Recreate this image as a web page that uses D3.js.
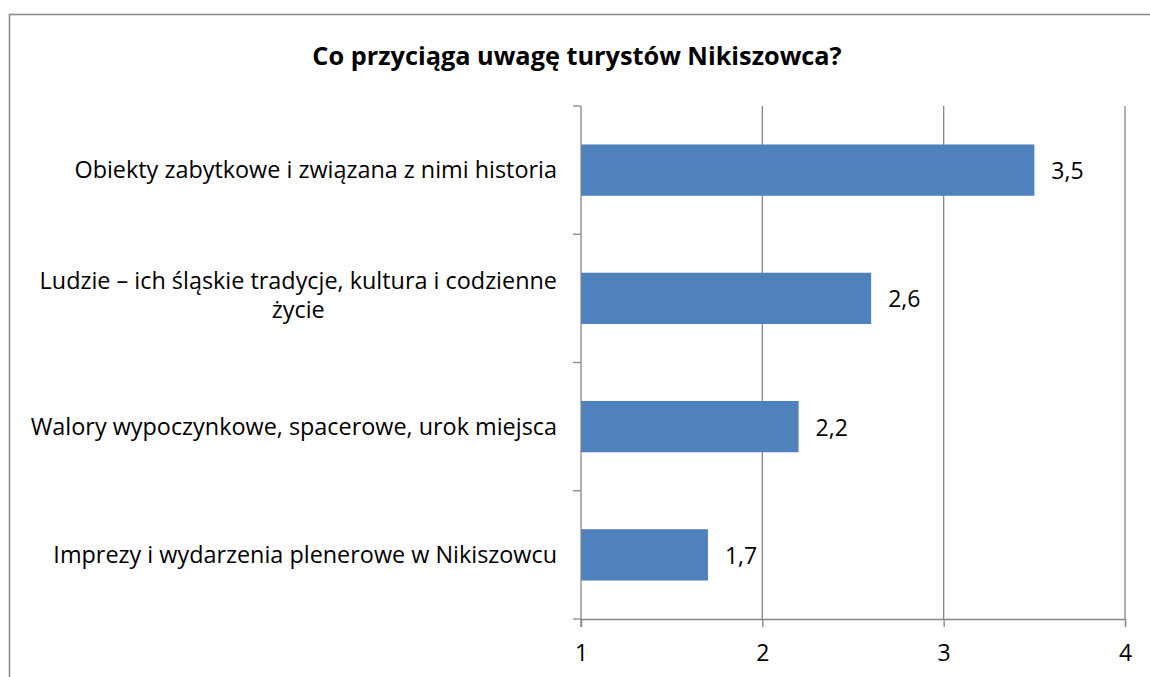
<!DOCTYPE html>
<html>
<head>
<meta charset="utf-8">
<script src="https://cdn.jsdelivr.net/npm/d3@7"></script>
<style>
  body { margin: 0; background: #fff; }
  svg { display: block; font-family: "Open Sans", sans-serif; }
</style>
</head>
<body>
<div id="chart"></div>
<script>
var width = 1150
var height = 677

// data
var categories = [
  'Obiekty zabytkowe i związana z nimi historia',
  'Ludzie – ich śląskie tradycje, kultura i codzienne życie',
  'Walory wypoczynkowe, spacerowe, urok miejsca',
  'Imprezy i wydarzenia plenerowe w Nikiszowcu'
]
var labelLines = [
  ['Obiekty zabytkowe i związana z nimi historia'],
  ['Ludzie – ich śląskie tradycje, kultura i codzienne', 'życie'],
  ['Walory wypoczynkowe, spacerowe, urok miejsca'],
  ['Imprezy i wydarzenia plenerowe w Nikiszowcu']
]
var values = [3.5, 2.6, 2.2, 1.7]
var ticks = [1, 2, 3, 4]
var title = 'Co przyciąga uwagę turystów Nikiszowca?'

var plot = { left: 581, right: 1125, top: 106, bottom: 619 }
var fs = 23
var labelFs = 23.4
var fmt = v => String(v).replace('.', ',')

var svg = d3.select('#chart').append('svg')
    .attr('width', width)
    .attr('height', height)

// outer chart border (right and bottom fall outside the page)
svg.append('rect')
    .attr('x', 9.5).attr('y', 14.5)
    .attr('width', 1200).attr('height', 800)
    .attr('fill', 'none')
    .attr('stroke', '#8c8c8c')
    .attr('stroke-width', 1.6)

svg.append('text')
    .attr('x', 577).attr('y', 65)
    .attr('text-anchor', 'middle')
    .attr('font-weight', 'bold')
    .attr('font-size', 25.3)
    .attr('fill', '#000')
    .text(title)

var x = d3.scaleLinear().domain([1, 4]).range([plot.left, plot.right])
var y = d3.scaleBand().domain(categories).range([plot.top, plot.bottom]).paddingInner(0.6).paddingOuter(0.3)

// gridlines
svg.append('g').selectAll('line')
    .data(ticks.slice(1))
    .join('line')
    .attr('x1', d => x(d)).attr('x2', d => x(d))
    .attr('y1', plot.top).attr('y2', plot.bottom)
    .attr('stroke', '#878787')
    .attr('stroke-width', 1.3)

// bars
svg.append('g').selectAll('rect')
    .data(values)
    .join('rect')
    .attr('x', x(1))
    .attr('y', (d, i) => y(categories[i]))
    .attr('width', d => x(d) - x(1))
    .attr('height', y.bandwidth())
    .attr('fill', '#4f81bd')

// value labels
svg.append('g').selectAll('text')
    .data(values)
    .join('text')
    .attr('x', d => x(d) + 17)
    .attr('y', (d, i) => y(categories[i]) + y.bandwidth() / 2 + 9)
    .attr('font-size', fs)
    .attr('fill', '#000')
    .text(fmt)

// x axis
var xAxis = svg.append('g')
    .attr('transform', `translate(0,${plot.bottom})`)
    .call(d3.axisBottom(x).tickValues(ticks).tickSize(8).tickFormat(d => d))
xAxis.select('.domain').attr('stroke', '#878787').attr('stroke-width', 1.3)
xAxis.selectAll('.tick line').attr('stroke', '#878787').attr('stroke-width', 1.3)
xAxis.selectAll('.tick text')
    .attr('font-size', fs)
    .attr('font-family', '"Open Sans", sans-serif')
    .attr('fill', '#000')
    .attr('dy', null)
    .attr('y', 42)

// y axis: line plus ticks between categories
var yAxis = svg.append('g')
yAxis.append('line')
    .attr('x1', plot.left).attr('x2', plot.left)
    .attr('y1', plot.top).attr('y2', plot.bottom + 8)
    .attr('stroke', '#878787').attr('stroke-width', 1.3)
yAxis.selectAll('line.tick')
    .data(d3.range(categories.length + 1))
    .join('line')
    .attr('class', 'tick')
    .attr('x1', plot.left - 8).attr('x2', plot.left)
    .attr('y1', i => plot.top + i * (plot.bottom - plot.top) / categories.length)
    .attr('y2', i => plot.top + i * (plot.bottom - plot.top) / categories.length)
    .attr('stroke', '#878787').attr('stroke-width', 1.3)

// category labels, multi-line labels centred on their widest line
var labelRight = 557
var lineH = 29
categories.forEach(function(c, i) {
  var lines = labelLines[i]
  var cy = y(c) + y.bandwidth() / 2
  var base = lines.length > 1 ? cy + 5.5 : cy + 8
  var t = svg.append('text')
      .attr('font-size', labelFs)
      .attr('fill', '#000')
  var spans = lines.map(function(l, j) {
    return t.append('tspan')
        .attr('y', base + (j - (lines.length - 1) / 2) * lineH)
        .text(l)
  })
  if (lines.length === 1) {
    t.attr('text-anchor', 'end')
    spans[0].attr('x', labelRight)
  } else {
    var maxW = d3.max(spans, s => s.node().getComputedTextLength())
    t.attr('text-anchor', 'middle')
    spans.forEach(s => s.attr('x', labelRight - maxW / 2))
  }
})
</script>
</body>
</html>
